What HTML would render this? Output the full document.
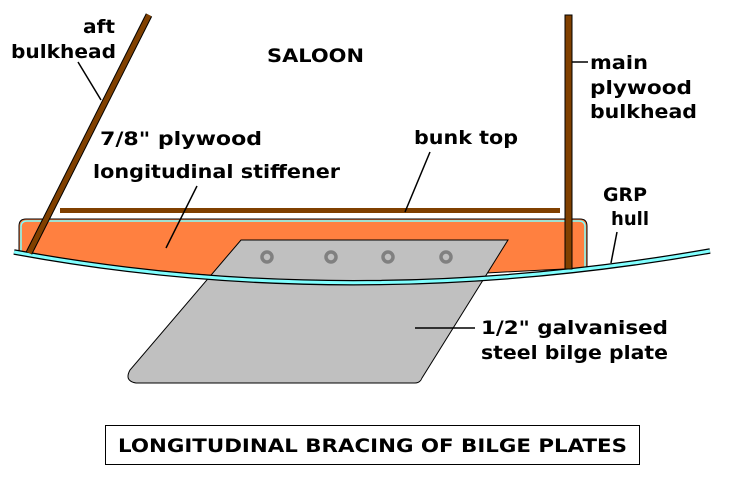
<!DOCTYPE html>
<html><head><style>
html,body{margin:0;padding:0;background:#fff;width:752px;height:491px;overflow:hidden}
svg text{font-family:"DejaVu Sans","Liberation Sans",sans-serif;font-weight:bold;font-size:19px;fill:#000}
</style></head><body>
<svg width="752" height="491" viewBox="0 0 752 491" xmlns="http://www.w3.org/2000/svg">
<path d="M19,253 L19,226 Q19,219 26,219 L580,219 Q587,219 587,226 L587,268 Q450,274 340,283 Q150,275 19,253 Z" fill="#ff8040" stroke="#000" stroke-width="1"/>
<path d="M21,252 L21,227 Q21,221 27,221 L579,221 Q585,221 585,227 L585,267" fill="none" stroke="#80ffff" stroke-width="1.5"/>
<path d="M241,240 L508,240 L422,378 Q420,383 415,383 L136,383 Q124,381 130,370 Z" fill="#c0c0c0" stroke="#000" stroke-width="1"/>
<g fill="none" stroke="#808080" stroke-width="3.5">
<circle cx="267" cy="257" r="5"/><circle cx="331" cy="257" r="5"/><circle cx="388" cy="257" r="5"/><circle cx="446" cy="257" r="5"/>
</g>
<path d="M14,252 Q350,314 710,251" fill="none" stroke="#000" stroke-width="5.5"/>
<path d="M14,252 Q350,314 710,251" fill="none" stroke="#80ffff" stroke-width="3"/>
<rect x="60" y="208" width="500" height="5" fill="#804000"/>
<line x1="149" y1="15" x2="29" y2="253" stroke="#000" stroke-width="7"/>
<line x1="149" y1="15" x2="29" y2="253" stroke="#804000" stroke-width="5"/>
<rect x="565" y="15" width="7" height="254" fill="#804000" stroke="#000" stroke-width="1"/>
<g stroke="#000" stroke-width="1.5">
<line x1="78" y1="62" x2="101" y2="100"/>
<line x1="430" y1="152" x2="405" y2="212"/>
<line x1="197" y1="186" x2="166" y2="248"/>
<line x1="617" y1="232" x2="611" y2="263"/>
<line x1="415" y1="328" x2="475" y2="328"/>
<line x1="572" y1="62" x2="588" y2="62"/>
</g>
<text x="83" y="33" textLength="32" lengthAdjust="spacingAndGlyphs">aft</text>
<text x="11" y="58" textLength="105" lengthAdjust="spacingAndGlyphs">bulkhead</text>
<text x="267" y="62" textLength="97" lengthAdjust="spacingAndGlyphs">SALOON</text>
<text x="590" y="69" textLength="58" lengthAdjust="spacingAndGlyphs">main</text>
<text x="590" y="94" textLength="102" lengthAdjust="spacingAndGlyphs">plywood</text>
<text x="590" y="118" textLength="107" lengthAdjust="spacingAndGlyphs">bulkhead</text>
<text x="100" y="145" textLength="162" lengthAdjust="spacingAndGlyphs">7/8" plywood</text>
<text x="414" y="144" textLength="104" lengthAdjust="spacingAndGlyphs">bunk top</text>
<text x="93" y="178" textLength="247" lengthAdjust="spacingAndGlyphs">longitudinal stiffener</text>
<text x="603" y="201" textLength="44" lengthAdjust="spacingAndGlyphs">GRP</text>
<text x="611" y="225" textLength="38" lengthAdjust="spacingAndGlyphs">hull</text>
<text x="481" y="334" textLength="187" lengthAdjust="spacingAndGlyphs">1/2" galvanised</text>
<text x="481" y="359" textLength="187" lengthAdjust="spacingAndGlyphs">steel bilge plate</text>
<rect x="105.5" y="425.5" width="534" height="39" fill="none" stroke="#000" stroke-width="1"/>
<text x="118" y="452" textLength="509" lengthAdjust="spacingAndGlyphs">LONGITUDINAL BRACING OF BILGE PLATES</text>
</svg>
</body></html>
